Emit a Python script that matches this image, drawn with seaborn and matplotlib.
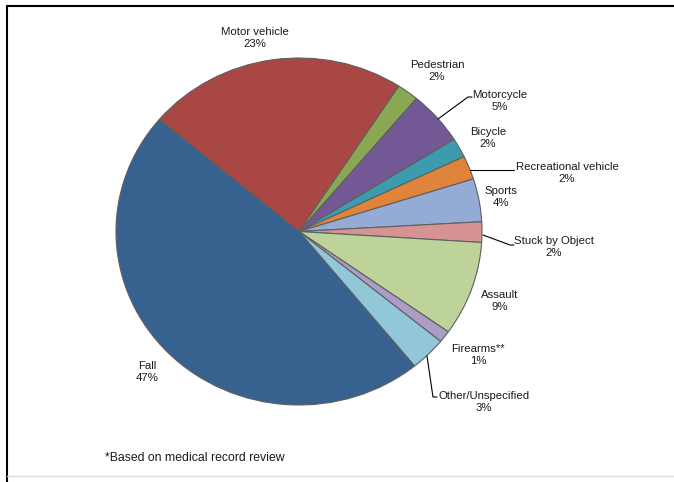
import matplotlib
matplotlib.use("Agg")
import matplotlib.pyplot as plt
import seaborn as sns
from matplotlib.lines import Line2D

# ---- data ----
categories = ["Motor vehicle", "Pedestrian", "Motorcycle", "Bicycle",
              "Recreational vehicle", "Sports", "Stuck by Object", "Assault",
              "Firearms**", "Other/Unspecified", "Fall"]
values = [23.0, 1.9, 5.0, 1.8, 2.2, 4.0, 1.9, 8.8, 1.1, 3.2, 47.0]
pct_labels = ["23%", "2%", "5%", "2%", "2%", "4%", "2%", "9%", "1%", "3%", "47%"]
colors = ["#A94745", "#8AA854", "#725894", "#3D9BAF", "#E0833B", "#94ABD5",
          "#D59493", "#BDD39A", "#AB9DC6", "#92C6D9", "#37618F"]
footnote = "*Based on medical record review"

# ---- style ----
sns.set_theme(style="white")
plt.rcParams['font.family'] = ['Liberation Sans Narrow', 'Liberation Sans', 'DejaVu Sans']

W, H = 674, 482
fig = plt.figure(figsize=(W / 100, H / 100), dpi=100)
ax = fig.add_axes([0, 0, 1, 1])

# pie geometry in pixels (center, radii)
cx, cy, rx, ry = 299, 231.5, 183, 173.5

ax.pie(values, colors=colors, startangle=139.8, counterclock=False,
       wedgeprops=dict(edgecolor="#5f5f5f", linewidth=0.8))
ax.set_aspect('auto')
ax.set_xlim(-cx / rx, (W - cx) / rx)
ax.set_ylim(-(H - cy) / ry, cy / ry)
ax.axis('off')


def to_data(px, py):
    return (px - cx) / rx, (cy - py) / ry


# label centers (pixel positions)
label_pos = [(255, 38), (437, 71), (500, 101), (488, 138), (567, 173),
             (501, 197), (554, 247), (500, 301), (478, 355), (484, 402),
             (147, 372)]
for name, pct, (px, py) in zip(categories, pct_labels, label_pos):
    x, y = to_data(px, py)
    ax.text(x, y, f"{name}\n{pct}", ha="center", va="center",
            fontsize=8.2, color="#1a1a1a", linespacing=1.2)

# leader lines (pixel positions)
leaders = [
    [(438, 119), (468, 97), (472, 97)],
    [(470, 170), (514, 170)],
    [(483, 235), (510, 245), (514, 245)],
    [(427, 356), (433, 397), (437, 397)],
]
for pts in leaders:
    xs, ys = zip(*[to_data(*p) for p in pts])
    ax.plot(xs, ys, color="black", linewidth=0.8)

fig.text(105 / W, 1 - 458 / H, footnote, ha="left", va="center",
         fontsize=8.8, color="#1a1a1a")

# border
fig.add_artist(Line2D([7 / W, 7 / W], [0, 1 - 6 / H], transform=fig.transFigure,
                      color="black", linewidth=1.5))
fig.add_artist(Line2D([7 / W, 1], [1 - 6 / H, 1 - 6 / H], transform=fig.transFigure,
                      color="black", linewidth=1.5))
fig.add_artist(Line2D([7 / W, 1], [1 - 476 / H, 1 - 476 / H], transform=fig.transFigure,
                      color="#dddddd", linewidth=1))

fig.savefig("out.png", dpi=100)
